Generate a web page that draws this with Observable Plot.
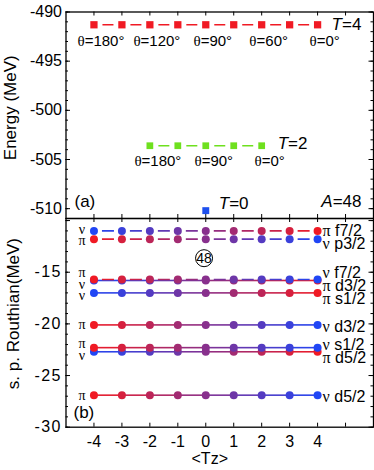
<!DOCTYPE html>
<html><head><meta charset="utf-8">
<script src="https://cdn.jsdelivr.net/npm/d3@7"></script>
<script src="https://cdn.jsdelivr.net/npm/@observablehq/plot@0.6"></script>
<style>
html,body{margin:0;padding:0;background:#fff;}
#chart{position:relative;width:374px;height:470px;overflow:hidden;background:#fff;}
#chart svg{position:absolute;left:0;}
</style></head><body><div id="chart"></div>
<script>
// ---------- data: panel (a) ----------
const tzT4 = [-4, -3, -2, -1, 0, 1, 2, 3, 4];
const energyT4 = [-491.3, -491.3, -491.3, -491.3, -491.3, -491.3, -491.3, -491.3, -491.3];
const thetaT4Tz = [-4, -2, 0, 2, 4];
const thetaT4 = ["θ=180°", "θ=120°", "θ=90°", "θ=60°", "θ=0°"];
const tzT2 = [-2, -1, 0, 1, 2];
const energyT2 = [-503.6, -503.6, -503.6, -503.6, -503.6];
const thetaT2Tz = [-2, 0, 2];
const thetaT2 = ["θ=180°", "θ=90°", "θ=0°"];
const tzT0 = [0];
const energyT0 = [-510.2];
const isospinLabels = ["T=4", "T=2", "T=0"];
const massNumber = 48;
const energyTicks = [-490, -495, -500, -505, -510];

// ---------- data: panel (b) ----------
const tz = [-4, -3, -2, -1, 0, 1, 2, 3, 4];
const leftNucleon = ["ν", "π", "π", "ν", "ν", "π", "π", "ν", "π"];
const orbitalRight = ["π f7/2", "ν p3/2", "ν f7/2", "π d3/2", "π s1/2", "ν d3/2", "ν s1/2", "π d5/2", "ν d5/2"];
const routhian = [
  [-11.0, -11.0, -11.0, -11.0, -11.0, -11.0, -11.0, -11.0, -11.0],
  [-11.8, -11.8, -11.8, -11.8, -11.8, -11.8, -11.8, -11.8, -11.8],
  [-15.7, -15.7, -15.7, -15.7, -15.7, -15.7, -15.7, -15.7, -15.7],
  [-15.8, -15.8, -15.8, -15.8, -15.8, -15.8, -15.8, -15.8, -15.8],
  [-17.0, -17.0, -17.0, -17.0, -17.0, -17.0, -17.0, -17.0, -17.0],
  [-20.1, -20.1, -20.1, -20.1, -20.1, -20.1, -20.1, -20.1, -20.1],
  [-22.3, -22.3, -22.3, -22.3, -22.3, -22.3, -22.3, -22.3, -22.3],
  [-22.7, -22.7, -22.7, -22.7, -22.7, -22.7, -22.7, -22.7, -22.7],
  [-26.9, -26.9, -26.9, -26.9, -26.9, -26.9, -26.9, -26.9, -26.9]
];
const routhianTicks = [-15, -20, -25, -30];
const xTickLabels = [-4, -3, -2, -1, 0, 1, 2, 3, 4];

// ---------- layout / style ----------
const W = 374, ML = 65.5, MR = 1;
const PW = W - ML - MR;
const RED = "#f01a24", BLUE = "#2046f5", GREEN = "#6ee01e", SQBLUE = "#1e50ee";
const SANS = "'Liberation Sans', Arial, sans-serif";
const SERIF = "'Liberation Serif', 'Times New Roman', serif";
const colorOf = g => g === "π" ? RED : BLUE;
const baseStyle = {fontFamily: SANS, fontSize: "16px", background: "transparent", overflow: "visible", color: "#000"};
const fmt = d => String(d);

function edgeTicks(yMinor, yMajor, xTicks, PH) {
  return [
    Plot.tickY(yMinor, {y: d => d, insetRight: PW - 2.5, strokeWidth: 1}),
    Plot.tickY(yMinor, {y: d => d, insetLeft: PW - 2.5, strokeWidth: 1}),
    Plot.tickY(yMajor, {y: d => d, insetRight: PW - 4.5, strokeWidth: 1}),
    Plot.tickY(yMajor, {y: d => d, insetLeft: PW - 4.5, strokeWidth: 1}),
    Plot.tickX(xTicks, {x: d => d, insetTop: PH - 4, strokeWidth: 1}),
    Plot.tickX(xTicks, {x: d => d, insetBottom: PH - 4, strokeWidth: 1})
  ];
}
function segments(xs, ys) {
  return d3.pairs(d3.range(xs.length)).map(([a, b]) => ({x1: xs[a], x2: xs[b], y1: ys[a], y2: ys[b]}));
}

// ---------- panel (a) ----------
const HA = 219, MTA = 11.5, MBA = 1, PHA = HA - MTA - MBA;
const yT4 = (d, i) => energyT4[tzT4.indexOf(thetaT4Tz[i])];
const yT2 = (d, i) => energyT2[tzT2.indexOf(thetaT2Tz[i])];
const plotA = Plot.plot({
  width: W, height: HA, marginLeft: ML, marginRight: MR, marginTop: MTA, marginBottom: MBA,
  style: baseStyle,
  x: {domain: [-5, 6], axis: null},
  y: {domain: [-511, -490]},
  marks: [
    ...edgeTicks(d3.range(-511, -489), energyTicks, d3.range(-4, 6), PHA),
    Plot.axisY({ticks: energyTicks, tickSize: 0, tickPadding: 4, tickFormat: fmt, label: null, fontSize: 16}),
    Plot.link(segments(tzT4, energyT4), {x1: "x1", x2: "x2", y1: "y1", y2: "y2", stroke: RED, strokeWidth: 1.5, strokeDasharray: "0,8.5,11,100"}),
    Plot.link(segments(tzT2, energyT2), {x1: "x1", x2: "x2", y1: "y1", y2: "y2", stroke: GREEN, strokeWidth: 1.5, strokeDasharray: "0,8.5,11,100"}),
    Plot.dot(d3.zip(tzT4, energyT4), {x: d => d[0], y: d => d[1], symbol: "square", r: 4.1, fill: RED}),
    Plot.dot(d3.zip(tzT2, energyT2), {x: d => d[0], y: d => d[1], symbol: "square", r: 3.8, fill: GREEN}),
    Plot.dot(d3.zip(tzT0, energyT0), {x: d => d[0], y: d => d[1], symbol: "square", r: 3.9, fill: SQBLUE}),
    Plot.text(thetaT4, {x: (d, i) => thetaT4Tz[i], y: yT4, text: d => d, dx: 7, dy: 16, fontSize: 15, ariaLabel: "theta"}),
    Plot.text(thetaT2, {x: (d, i) => thetaT2Tz[i], y: yT2, text: d => d, dx: 8, dy: 15, fontSize: 15, ariaLabel: "theta"}),
    Plot.text([isospinLabels[0]], {x: () => tzT4[tzT4.length - 1], y: () => energyT4[energyT4.length - 1], text: d => d, dx: 14, textAnchor: "start", fontSize: 17}),
    Plot.text([isospinLabels[1]], {x: () => tzT2[tzT2.length - 1], y: () => energyT2[energyT2.length - 1], text: d => d, dx: 16, dy: -2, textAnchor: "start", fontSize: 17}),
    Plot.text([isospinLabels[2]], {x: () => tzT0[0], y: () => energyT0[0], text: d => d, dx: 13, dy: -7, textAnchor: "start", fontSize: 17}),
    Plot.text(["(a)"], {frameAnchor: "bottom-left", text: d => d, dx: 8.5, dy: -17, textAnchor: "start", lineAnchor: "middle", fontSize: 17}),
    Plot.text([`A=${massNumber}`], {frameAnchor: "bottom-right", text: d => d, dx: -12, dy: -17, textAnchor: "end", lineAnchor: "middle", fontSize: 17}),
    Plot.text(["Energy (MeV)"], {frameAnchor: "left", text: d => d, rotate: -90, dx: -55.5, dy: -7.5, textAnchor: "middle", lineAnchor: "middle", fontSize: 17}),
    Plot.frame({strokeWidth: 1.3})
  ]
});

// ---------- panel (b) ----------
const TOPB = 217, HB = 253, MTB = 1, MBB = 43.3, PHB = HB - MTB - MBB;
const YDOM = [-30, -9.8];
const pxPerUnit = PHB / (YDOM[1] - YDOM[0]);
function dodge(vals, gapPx) {
  const gap = gapPx / pxPerUnit;
  const order = d3.range(vals.length).sort((a, b) => vals[b] - vals[a]);
  const pos = vals.slice();
  for (let it = 0; it < 60; it++) {
    for (let k = 1; k < order.length; k++) {
      const a = order[k - 1], b = order[k];
      const d = pos[a] - pos[b];
      if (d < gap) { const s = (gap - d) / 2; pos[a] += s; pos[b] -= s; }
    }
  }
  return pos;
}
const n = tz.length;
const segs = [], dots = [];
routhian.forEach((row, i) => {
  const c0 = colorOf(leftNucleon[i]), c1 = colorOf(orbitalRight[i][0]);
  const dashed = /[fp]/.test(orbitalRight[i].slice(1));
  const ip = d3.interpolateRgb(c0, c1);
  d3.pairs(d3.range(n)).forEach(([a, b]) => segs.push({x1: tz[a], x2: tz[b], y1: row[a], y2: row[b], c: ip((a + b) / 2 / (n - 1)), dashed}));
});
for (let i = routhian.length - 1; i >= 0; i--) {
  const c0 = colorOf(leftNucleon[i]), c1 = colorOf(orbitalRight[i][0]);
  const ip = d3.interpolateRgb(c0, c1);
  tz.forEach((x, k) => dots.push({x, y: routhian[i][k], c: ip(k / (n - 1))}));
}
const leftPos = dodge(routhian.map(r => r[0]), 11.5);
const rightPos = dodge(routhian.map(r => r[n - 1]), 13);

const plotB = Plot.plot({
  width: W, height: HB, marginLeft: ML, marginRight: MR, marginTop: MTB, marginBottom: MBB,
  style: baseStyle,
  color: {type: "identity"},
  x: {domain: [-5, 6]},
  y: {domain: YDOM},
  marks: [
    ...edgeTicks(d3.range(-30, -9), [-10, ...routhianTicks], d3.range(-4, 6), PHB),
    Plot.axisY({ticks: routhianTicks, tickSize: 0, tickPadding: 4, tickFormat: fmt, label: null, fontSize: 16}),
    Plot.axisX({ticks: xTickLabels, tickSize: 0, tickPadding: 8, tickFormat: fmt, label: null, fontSize: 16}),
    Plot.link(segs.filter(s => !s.dashed), {x1: "x1", x2: "x2", y1: "y1", y2: "y2", stroke: "c", strokeWidth: 1.6}),
    Plot.link(segs.filter(s => s.dashed), {x1: "x1", x2: "x2", y1: "y1", y2: "y2", stroke: "c", strokeWidth: 1.6, strokeDasharray: "0,8,12,100"}),
    Plot.dot(dots, {x: "x", y: "y", r: 4, fill: "c"}),
    Plot.text(leftNucleon, {x: () => tz[0], y: (d, i) => leftPos[i], text: d => d, dx: -12, textAnchor: "middle", fontSize: 14}),
    Plot.text(orbitalRight, {x: () => tz[n - 1], y: (d, i) => rightPos[i], text: d => d, dx: 5, dy: 2, textAnchor: "start", fontSize: 16}),
    Plot.dot([massNumber], {frameAnchor: "top", dx: -15.7, dy: 39.7, r: 8.5, stroke: "#000", fill: "none", strokeWidth: 1}),
    Plot.text([massNumber], {frameAnchor: "top", text: d => String(d), dx: -15.7, dy: 40, lineAnchor: "middle", textAnchor: "middle", fontSize: 14}),
    Plot.text(["(b)"], {frameAnchor: "bottom-left", text: d => d, dx: 7.5, dy: -15, textAnchor: "start", lineAnchor: "middle", fontSize: 17}),
    Plot.text(["s. p. Routhian(MeV)"], {frameAnchor: "left", text: d => d, rotate: -90, dx: -52.5, dy: -9.3, textAnchor: "middle", lineAnchor: "middle", fontSize: 17}),
    Plot.text(["<Tz>"], {frameAnchor: "bottom", text: d => d, dx: -10, dy: 31.5, textAnchor: "middle", lineAnchor: "middle", fontSize: 16}),
    Plot.frame({strokeWidth: 1.3})
  ]
});

const chart = document.getElementById("chart");
plotA.style.top = "0px";
plotB.style.top = TOPB + "px";
chart.appendChild(plotA);
chart.appendChild(plotB);

// Greek letters in a serif face, italic T / A
const NS = "http://www.w3.org/2000/svg";
function tspan(txt, attrs) {
  const t = document.createElementNS(NS, "tspan");
  for (const k in attrs) t.setAttribute(k, attrs[k]);
  t.textContent = txt;
  return t;
}
[plotA, plotB].forEach(svg => {
  svg.querySelectorAll("text").forEach(t => {
    if (t.querySelector("tspan")) return;
    const s = t.textContent;
    let m;
    if ((m = s.match(/^([θπν])(.*)$/))) {
      t.textContent = "";
      t.appendChild(tspan(m[1], {"font-family": SERIF}));
      if (m[2]) t.appendChild(tspan(m[2], {}));
    } else if ((m = s.match(/^([TA])(=.*)$/))) {
      t.textContent = "";
      t.appendChild(tspan(m[1], {"font-style": "italic"}));
      t.appendChild(tspan(m[2], {}));
    }
  });
  svg.querySelectorAll('g[aria-label="theta"] text').forEach(t => t.setAttribute("letter-spacing", "1"));
});
plotB.querySelectorAll('g[aria-label="y-axis tick label"] text').forEach(t => t.setAttribute("letter-spacing", "1.5"));
</script></body></html>
